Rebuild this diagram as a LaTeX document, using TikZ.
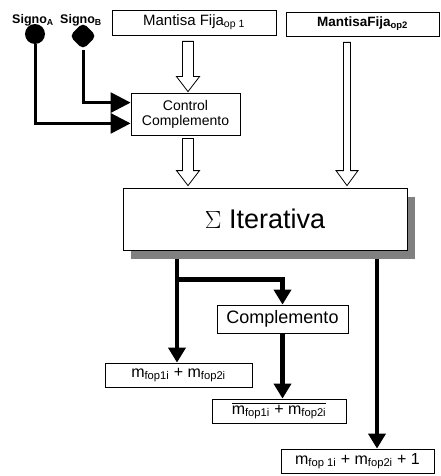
\documentclass[tikz,border=0pt]{standalone}
\usepackage{fontspec}
\setmainfont{Liberation Sans}
\usetikzlibrary{arrows.meta,calc,shapes.geometric,shadows}

% hollow block arrow from #1 down to the tip #2; #3 half shaft, #4 half head
\newcommand{\hollowarrow}[4]{%
  \draw[hollow] let \p1=(#1), \p2=(#2) in
    (\x2-#3,\y1) -- (\x2-#3,\y2+15pt) -- (\x2-#4,\y2+15pt) -- (\x2,\y2)
    -- (\x2+#4,\y2+15pt) -- (\x2+#3,\y2+15pt) -- (\x2+#3,\y1) -- cycle;}

\begin{document}
\begin{tikzpicture}[x=1pt,y=-1pt,
  box/.style={draw, line width=0.8pt, fill=white, inner sep=0pt, align=center},
  hollow/.style={draw, line width=0.8pt, fill=white},
  sigline/.style={line width=3pt, -{Triangle[length=20pt,width=20pt]}},
  outline/.style={line width=4.5pt, -{Triangle[length=15pt,width=17pt]}},
  small/.style={font=\fontsize{14}{15}\selectfont},
  mid/.style={font=\fontsize{15}{17}\selectfont},
  res/.style={font=\fontsize{16}{18}\selectfont}]
\useasboundingbox (0,0) rectangle (441,476);

% inputs
\node[box, mid, minimum width=164pt, minimum height=25pt] (m1) at (194,22.5)
  {Mantisa Fija\textsubscript{op 1}};
\node[box, minimum width=153pt, minimum height=24pt, font=\fontsize{13.5}{16}\selectfont] (m2) at (362.5,24)
  {\textbf{MantisaFija\textsubscript{op2}}};

\node[font=\bfseries\fontsize{12.5}{14}\selectfont, inner sep=0pt] (la) at (33,20) {Signo\textsubscript{A}};
\node[font=\bfseries\fontsize{12.5}{14}\selectfont, inner sep=0pt] (lb) at (81,20) {Signo\textsubscript{B}};
\node[circle, fill=black, minimum size=20pt, inner sep=0pt] (sa) at (35,34) {};
\node[diamond, fill=black, minimum size=27pt, inner sep=0pt, rounded corners=5pt] (sb) at (83,36) {};

% sign control
\node[box, small, minimum width=109pt, minimum height=42pt] (ctrl) at (185.5,114)
  {Control\\Complemento};

\draw[sigline] (sb) |- ($(ctrl.north west)+(0,10)$);
\draw[sigline] (sa) |- ($(ctrl.south west)+(0,-12)$);

% iterative adder with its shadow
\node[box, minimum width=284pt, minimum height=62pt, font=\fontsize{27}{30}\selectfont,
  drop shadow={shadow xshift=7.5pt, shadow yshift=-8.5pt, fill=black!50, opacity=1}]
  (sigma) at (265,219) {$\Sigma$\ Iterativa};

% block arrows
\path (ctrl.north) ++(2.5,-1) coordinate (a1e);
\path (a1e |- m1.south) ++(0,6) coordinate (a1s);
\hollowarrow{a1s}{a1e}{5.5pt}{11.5pt}
\path (sigma.north -| a1e) ++(0,-2) coordinate (a2e);
\path (a2e |- ctrl.south) ++(0,3) coordinate (a2s);
\hollowarrow{a2s}{a2e}{5.5pt}{11.5pt}
\path (sigma.north) ++(82,-2) coordinate (a3e);
\path (a3e |- m2.south) ++(0,6) coordinate (a3s);
\hollowarrow{a3s}{a3e}{3.5pt}{11pt}

% outputs
\node[box, minimum width=131pt, minimum height=28pt, font=\fontsize{18}{20}\selectfont]
  (comp) at (282.5,319) {Complemento};
\node[box, res, minimum width=147pt, minimum height=24pt] (r1) at (178.5,375)
  {m\textsubscript{fop1i} + m\textsubscript{fop2i}};
\node[box, res, minimum width=134pt, minimum height=24pt] (r2) at (279,411)
  {$\overline{\mbox{m\textsubscript{fop1i} + m\textsubscript{fop2i}}}$};
\node[box, res, minimum width=153pt, minimum height=24pt] (r3) at (357.5,461)
  {m\textsubscript{fop 1i} + m\textsubscript{fop2i} + 1};

\coordinate (lx) at ($(sigma.south)+(-88,9)$);
\coordinate (rx) at ($(sigma.south)+(112,9)$);
\draw[outline] (lx) -- (lx |- r1.north);
\draw[outline] ($(lx)+(0,20)$) -| (comp.north);
\draw[outline] (comp.south) -- (comp.south |- r2.north);
\draw[outline] (rx) -- (rx |- r3.north);
\end{tikzpicture}
\end{document}
